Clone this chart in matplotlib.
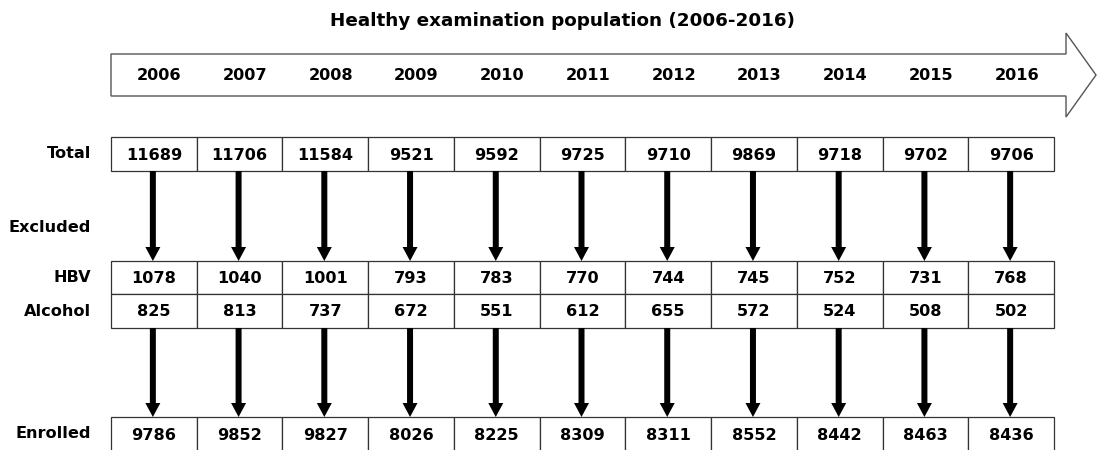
import matplotlib
matplotlib.use("Agg")
import matplotlib.pyplot as plt
from matplotlib.patches import Rectangle, Polygon, FancyArrow

# ---- data ----
years = ["2006", "2007", "2008", "2009", "2010", "2011", "2012", "2013", "2014", "2015", "2016"]
total = [11689, 11706, 11584, 9521, 9592, 9725, 9710, 9869, 9718, 9702, 9706]
hbv = [1078, 1040, 1001, 793, 783, 770, 744, 745, 752, 731, 768]
alcohol = [825, 813, 737, 672, 551, 612, 655, 572, 524, 508, 502]
enrolled = [9786, 9852, 9827, 8026, 8225, 8309, 8311, 8552, 8442, 8463, 8436]
title = "Healthy examination population (2006-2016)"
row_labels = ["Total", "Excluded", "HBV", "Alcohol", "Enrolled"]

plt.rcParams['font.family'] = ['DejaVu Sans']
W, H = 1097, 450
fig = plt.figure(figsize=(W / 100, H / 100), dpi=100)
ax = fig.add_axes([0, 0, 1, 1])
ax.set_xlim(0, W)
ax.set_ylim(H, 0)
ax.axis('off')

FS = 11.6
edge = '#333333'

# title
ax.text(563, 21, title, ha='center', va='center', fontsize=13.2, fontweight='bold')

# big timeline arrow
body_top, body_bot = 54, 96
head_x, tip_x = 1066, 1096
arrow_pts = [(111, body_top), (head_x, body_top), (head_x, 33), (tip_x, 75),
             (head_x, 117), (head_x, body_bot), (111, body_bot)]
ax.add_patch(Polygon(arrow_pts, closed=True, facecolor='white', edgecolor='#555555', lw=1.0))

x0 = 111
cw = (1054 - 111) / len(years)
for i, y in enumerate(years):
    ax.text(x0 + cw * i + cw / 2 + 5.5, 76, y, ha='center', va='center',
            fontsize=FS, fontweight='bold')

# table rows
rows = [
    (total, 137, 171),
    (hbv, 261, 294),
    (alcohol, 294, 328),
    (enrolled, 417, 453),
]
for vals, top, bot in rows:
    for i, v in enumerate(vals):
        ax.add_patch(Rectangle((x0 + cw * i, top), cw, bot - top, facecolor='white',
                               edgecolor=edge, lw=0.9))
        ax.text(x0 + cw * i + cw / 2, (top + bot) / 2 + 1, str(v), ha='center',
                va='center', fontsize=FS, fontweight='bold')

# row labels
label_y = [153, 227, 277, 312, 433]
for lab, ly in zip(row_labels, label_y):
    ax.text(91, ly, lab, ha='right', va='center', fontsize=FS, fontweight='bold')

# down arrows
for i in range(len(years)):
    cx = x0 + cw * i + cw / 2 - 1
    for y_start, y_end in [(171, 261), (328, 417)]:
        ax.add_patch(FancyArrow(cx, y_start, 0, y_end - y_start, width=6, head_width=15,
                                head_length=14, length_includes_head=True,
                                facecolor='black', edgecolor='black', lw=0))

fig.savefig('out.png', dpi=100)
